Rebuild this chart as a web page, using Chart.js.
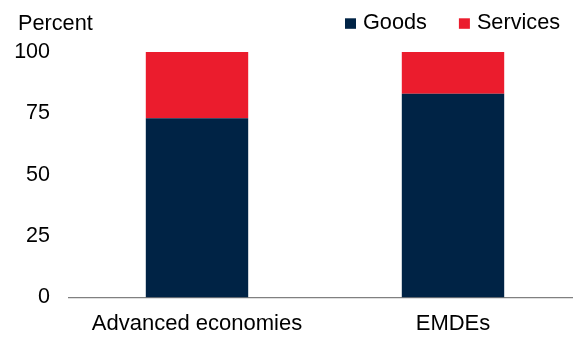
<!DOCTYPE html>
<html>
<head>
<meta charset="utf-8">
<script src="https://cdn.jsdelivr.net/npm/chart.js@4/dist/chart.umd.min.js"></script>
<style>
  html, body { margin: 0; padding: 0; background: #fff; overflow: hidden; }
  #wrap { width: 581px; height: 337px; }
</style>
</head>
<body>
<div id="wrap"><canvas id="c" width="581" height="337"></canvas></div>
<script>
// Share of goods and services, percent
const categories = ['Advanced economies', 'EMDEs'];
const goods = [73, 83];
const services = [27, 17];
const yTicks = [0, 25, 50, 75, 100];
const seriesNames = ['Goods', 'Services'];
const seriesColors = ['#002345', '#EB1C2D'];

const FONT = '"Liberation Sans", Arial, sans-serif';

// Unit label and legend row drawn above the plot
const headerPlugin = {
  id: 'header',
  afterDraw(chart) {
    const ctx = chart.ctx;
    ctx.save();
    ctx.font = '21.7px ' + FONT;
    ctx.fillStyle = '#000';
    ctx.textBaseline = 'alphabetic';
    ctx.textAlign = 'left';
    ctx.fillText('Percent', 18, 30);

    let x = 345;
    chart.data.datasets.forEach((ds) => {
      ctx.fillStyle = ds.backgroundColor;
      ctx.fillRect(x, 18.3, 11, 10.5);
      x += 11 + 7;
      ctx.fillStyle = '#000';
      ctx.fillText(ds.label, x, 28.7);
      x += ctx.measureText(ds.label).width + 32;
    });
    ctx.restore();
  }
};

new Chart(document.getElementById('c'), {
  type: 'bar',
  data: {
    labels: categories,
    datasets: [
      { label: seriesNames[0], data: goods, backgroundColor: seriesColors[0] },
      { label: seriesNames[1], data: services, backgroundColor: seriesColors[1] }
    ]
  },
  options: {
    responsive: false,
    devicePixelRatio: 1,
    animation: false,
    layout: { padding: { top: 52, right: 0, bottom: 0, left: 0 } },
    datasets: { bar: { categoryPercentage: 0.8, barPercentage: 0.5, borderWidth: 0 } },
    plugins: { legend: { display: false }, tooltip: { enabled: false } },
    scales: {
      x: {
        stacked: true,
        grid: { display: false, drawTicks: false },
        border: { display: true, color: '#808080', width: 1.3 },
        ticks: { color: '#000', font: { size: 22, family: FONT }, padding: 13, maxRotation: 0 },
        afterFit(scale) { scale.height = 39.5; }
      },
      y: {
        stacked: true,
        min: 0,
        max: 100,
        afterBuildTicks(scale) { scale.ticks = yTicks.map(v => ({ value: v })); },
        grid: { display: false, drawTicks: false },
        border: { display: false },
        ticks: { color: '#000', font: { size: 21.5, family: FONT }, padding: 19 },
        afterFit(scale) { scale.width = 69; }
      }
    }
  },
  plugins: [headerPlugin]
});
</script>
</body>
</html>
